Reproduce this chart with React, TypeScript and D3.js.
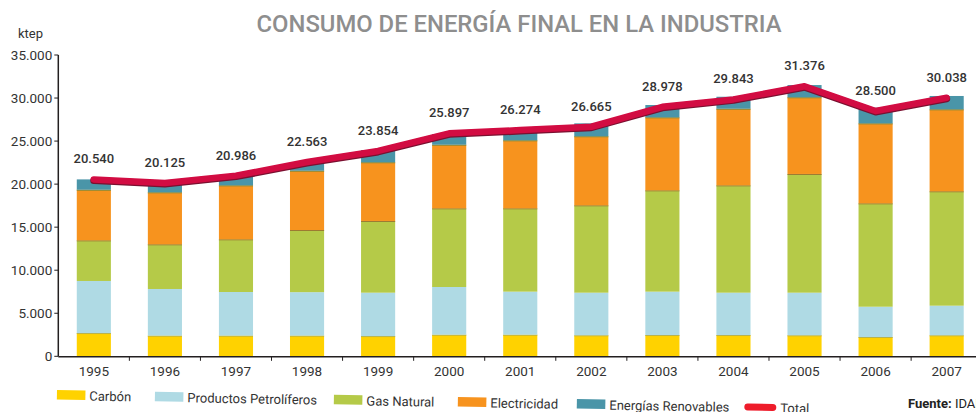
import React from "react";
import * as d3 from "d3";

const years = ["1995","1996","1997","1998","1999","2000","2001","2002","2003","2004","2005","2006","2007"];
const carbon = [2700, 2400, 2400, 2400, 2350, 2510, 2510, 2440, 2470, 2470, 2440, 2240, 2440];
const petroleo = [6050, 5420, 5070, 5050, 5040, 5540, 5000, 4950, 5040, 4920, 4950, 3520, 3440];
const gasNatural = [4720, 5190, 6120, 7220, 8330, 9140, 9680, 10150, 11770, 12470, 13790, 12010, 13290];
const electricidad = [5880, 6040, 6270, 6890, 6820, 7390, 7900, 8020, 8480, 8900, 8910, 9290, 9520];
const renovables = [1200, 1110, 1120, 1010, 1420, 1240, 1120, 1500, 1430, 1390, 1420, 1820, 1550];
const totals = [20540, 20125, 20986, 22563, 23854, 25897, 26274, 26665, 28978, 29843, 31376, 28500, 30038];
const yTicks = [0, 5000, 10000, 15000, 20000, 25000, 30000, 35000];

const seriesNames = ["Carbón", "Productos Petrolíferos", "Gas Natural", "Electricidad", "Energías Renovables"];
const seriesValues = [carbon, petroleo, gasNatural, electricidad, renovables];
const colors = ["#FFD200", "#AFDAE4", "#B5CA48", "#F7931E", "#4A95A8"];
const topLines = ["#B7B04A", null, "#9C7A32", "#7E8A3C", null];

const FONT = "Roboto, 'DejaVu Sans', sans-serif";
const W = 976, H = 412;
const M = { left: 58.3, top: 55, bottom: 356.3, right: 982.2 };

const locale = d3.formatLocale({ decimal: ",", thousands: ".", grouping: [3], currency: ["", "€"] });
const fmt = locale.format(",d");

const legendX = [57, 155, 334, 458, 577, 745];
const legendTextGap = 4;

export default function App() {
  const x = d3.scaleBand<string>().domain(years).range([M.left, M.right]).paddingInner(0.52).paddingOuter(0.26);
  const y = d3.scaleLinear().domain([0, 35000]).range([M.bottom, M.top]);
  const step = x.step();
  const bw = x.bandwidth();

  const rows = years.map((yr, i) => {
    const r: any = { year: yr };
    seriesNames.forEach((n, k) => (r[n] = seriesValues[k][i]));
    return r;
  });
  const stack = d3.stack<any>().keys(seriesNames)(rows);

  const cx = (yr: string) => (x(yr) as number) + bw / 2;
  const line = d3.line<number>().x((_, i) => cx(years[i])).y((d) => y(d));
  const linePath = line(totals) || "";

  return (
    <svg width={W} height={H} style={{ position: "absolute", left: 0, top: 0, display: "block" }} fontFamily={FONT}>
      <rect width={W} height={H} fill="#fff" />
      <text x={519} y={32} textAnchor="middle" fontSize={24} fill="#8E8E8E" textLength={525} lengthAdjust="spacingAndGlyphs" fontWeight={500}>
        CONSUMO DE ENERGÍA FINAL EN LA INDUSTRIA
      </text>
      <text x={18} y={38} fontSize={13} fill="#333">ktep</text>

      {/* bars */}
      {stack.map((s, k) => (
        <g key={k}>
          {s.map((d, i) => (
            <rect key={i} x={x(years[i])} y={y(d[1])} width={bw} height={y(d[0]) - y(d[1])} fill={colors[k]} />
          ))}
          {topLines[k] &&
            s.map((d, i) => (
              <line key={"l" + i} x1={x(years[i])} x2={(x(years[i]) as number) + bw} y1={y(d[1]) + 0.5} y2={y(d[1]) + 0.5} stroke={topLines[k] as string} strokeWidth={1} />
            ))}
        </g>
      ))}

      {/* y axis */}
      <line x1={M.left} x2={M.left} y1={M.top} y2={M.bottom} stroke="#231F20" strokeWidth={1.5} />
      {yTicks.map((t) => (
        <g key={t}>
          <line x1={M.left - 4} x2={M.left} y1={y(t)} y2={y(t)} stroke="#231F20" strokeWidth={1} />
          <text x={M.left - 6} y={y(t)} dy="0.35em" textAnchor="end" fontSize={13.5} fill="#333">{fmt(t)}</text>
        </g>
      ))}

      {/* x axis */}
      <line x1={M.left} x2={W} y1={M.bottom + 0.5} y2={M.bottom + 0.5} stroke="#231F20" strokeWidth={1.5} />
      {years.map((yr) => (
        <g key={yr}>
          <line x1={cx(yr) + step / 2} x2={cx(yr) + step / 2} y1={M.bottom} y2={M.bottom + 4.5} stroke="#231F20" strokeWidth={1} />
          <text x={cx(yr)} y={376} textAnchor="middle" fontSize={13.5} fill="#333">{yr}</text>
        </g>
      ))}

      {/* total line */}
      <path d={linePath} fill="none" stroke="#7A1030" strokeWidth={7} strokeLinecap="round" strokeLinejoin="round" transform="translate(0,1)" />
      <path d={linePath} fill="none" stroke="#D20C42" strokeWidth={6.5} strokeLinecap="round" strokeLinejoin="round" />
      {totals.map((t, i) => (
        <text key={i} x={cx(years[i])} y={y(t) - 16} textAnchor="middle" fontSize={13} fontWeight={500} fill="#333">{fmt(t)}</text>
      ))}

      {/* legend */}
      <g transform="rotate(1, 57, 390)">
        {seriesNames.map((n, k) => (
          <g key={n}>
            <rect x={legendX[k]} y={390} width={28.5} height={9.5} fill={colors[k]} />
            <text x={legendX[k] + 28.5 + legendTextGap} y={400} fontSize={13} fill="#333">{n}</text>
          </g>
        ))}
        <line x1={legendX[5] + 3} x2={legendX[5] + 28} y1={395} y2={395} stroke="#EE1C2B" strokeWidth={7} strokeLinecap="round" />
        <text x={legendX[5] + 28.5 + 7} y={400} fontSize={13} fill="#333">Total</text>
      </g>
      <text x={908} y={408} fontSize={13} fill="#222">
        <tspan fontWeight={700}>Fuente:</tspan> IDAE
      </text>
    </svg>
  );
}
